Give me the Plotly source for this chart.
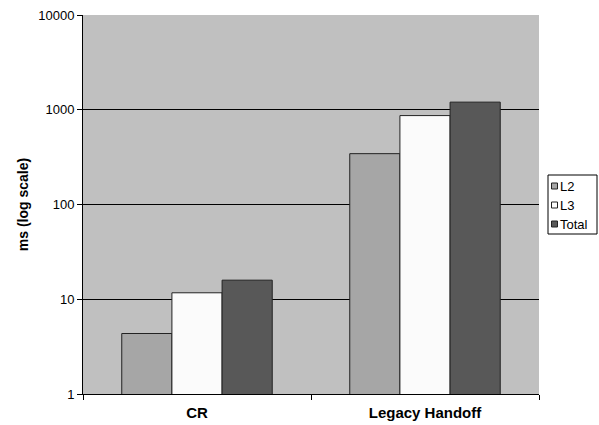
import plotly.graph_objects as go

categories = ["CR", "Legacy Handoff"]
series_names = ["L2", "L3", "Total"]
l2_values = [4.35, 344]
l3_values = [11.7, 868]
total_values = [15.9, 1203]
y_tick_vals = [1, 10, 100, 1000, 10000]
y_tick_text = ["1", "10", "100", "1000", "10000"]

colors = ["#a6a6a6", "#fbfbfb", "#585858"]

W, H = 599, 425
ML, MR, MT, MB = 83, 60, 15, 31
PW = W - ML - MR
PH = H - MT - MB


def px(p):
    return (p - ML) / PW


def py(q):
    return (H - MB - q) / PH


fig = go.Figure()
for name, vals, col in zip(series_names, [l2_values, l3_values, total_values], colors):
    fig.add_trace(go.Bar(
        x=categories, y=vals, name=name,
        marker=dict(color=col, line=dict(color="#222222", width=1)),
        showlegend=False,
    ))

# manual compact legend
shapes = [dict(type="rect", xref="paper", yref="paper",
               x0=px(548), x1=px(597), y0=py(234), y1=py(175),
               fillcolor="white", line=dict(color="black", width=1), layer="above")]
annotations = []
item_y = [186, 205, 224]
for name, col, yc in zip(series_names, colors, item_y):
    shapes.append(dict(type="rect", xref="paper", yref="paper",
                       x0=px(551.5), x1=px(557.5), y0=py(yc + 3), y1=py(yc - 3),
                       fillcolor=col, line=dict(color="#222222", width=1), layer="above"))
    annotations.append(dict(text=name, xref="paper", yref="paper",
                            x=px(557.5), y=py(yc), xanchor="left", yanchor="middle",
                            showarrow=False, font=dict(size=13)))

fig.update_layout(
    width=W, height=H,
    margin=dict(l=ML, r=MR, t=MT, b=MB, autoexpand=False),
    paper_bgcolor="white",
    plot_bgcolor="#c0c0c0",
    barmode="group",
    bargap=0.34,
    bargroupgap=0,
    font=dict(family="Liberation Sans, Arial, sans-serif", size=12, color="black"),
    showlegend=False,
    shapes=shapes,
    annotations=annotations,
)
fig.update_yaxes(
    type="log", range=[0, 4],
    tickvals=y_tick_vals, ticktext=y_tick_text,
    tickfont=dict(size=13),
    showgrid=True, gridcolor="black", gridwidth=1,
    showline=True, linecolor="black", linewidth=1,
    ticks="outside", ticklen=5, tickcolor="black",
    title=dict(text="<b>ms (log scale)</b>", font=dict(size=14), standoff=6),
    zeroline=False, automargin=False,
)
fig.update_xaxes(
    showline=True, linecolor="black", linewidth=1,
    ticks="outside", ticklen=5, tickcolor="black",
    tickson="boundaries",
    tickfont=dict(size=15),
    ticklabelstandoff=5,
    tickvals=categories,
    ticktext=["<b>" + c + "</b>" for c in categories],
    showgrid=False, automargin=False,
)

fig.write_html(
    "out.html",
    config={"displayModeBar": False},
    post_script="document.body.style.margin='0';document.body.style.overflow='hidden';",
)
